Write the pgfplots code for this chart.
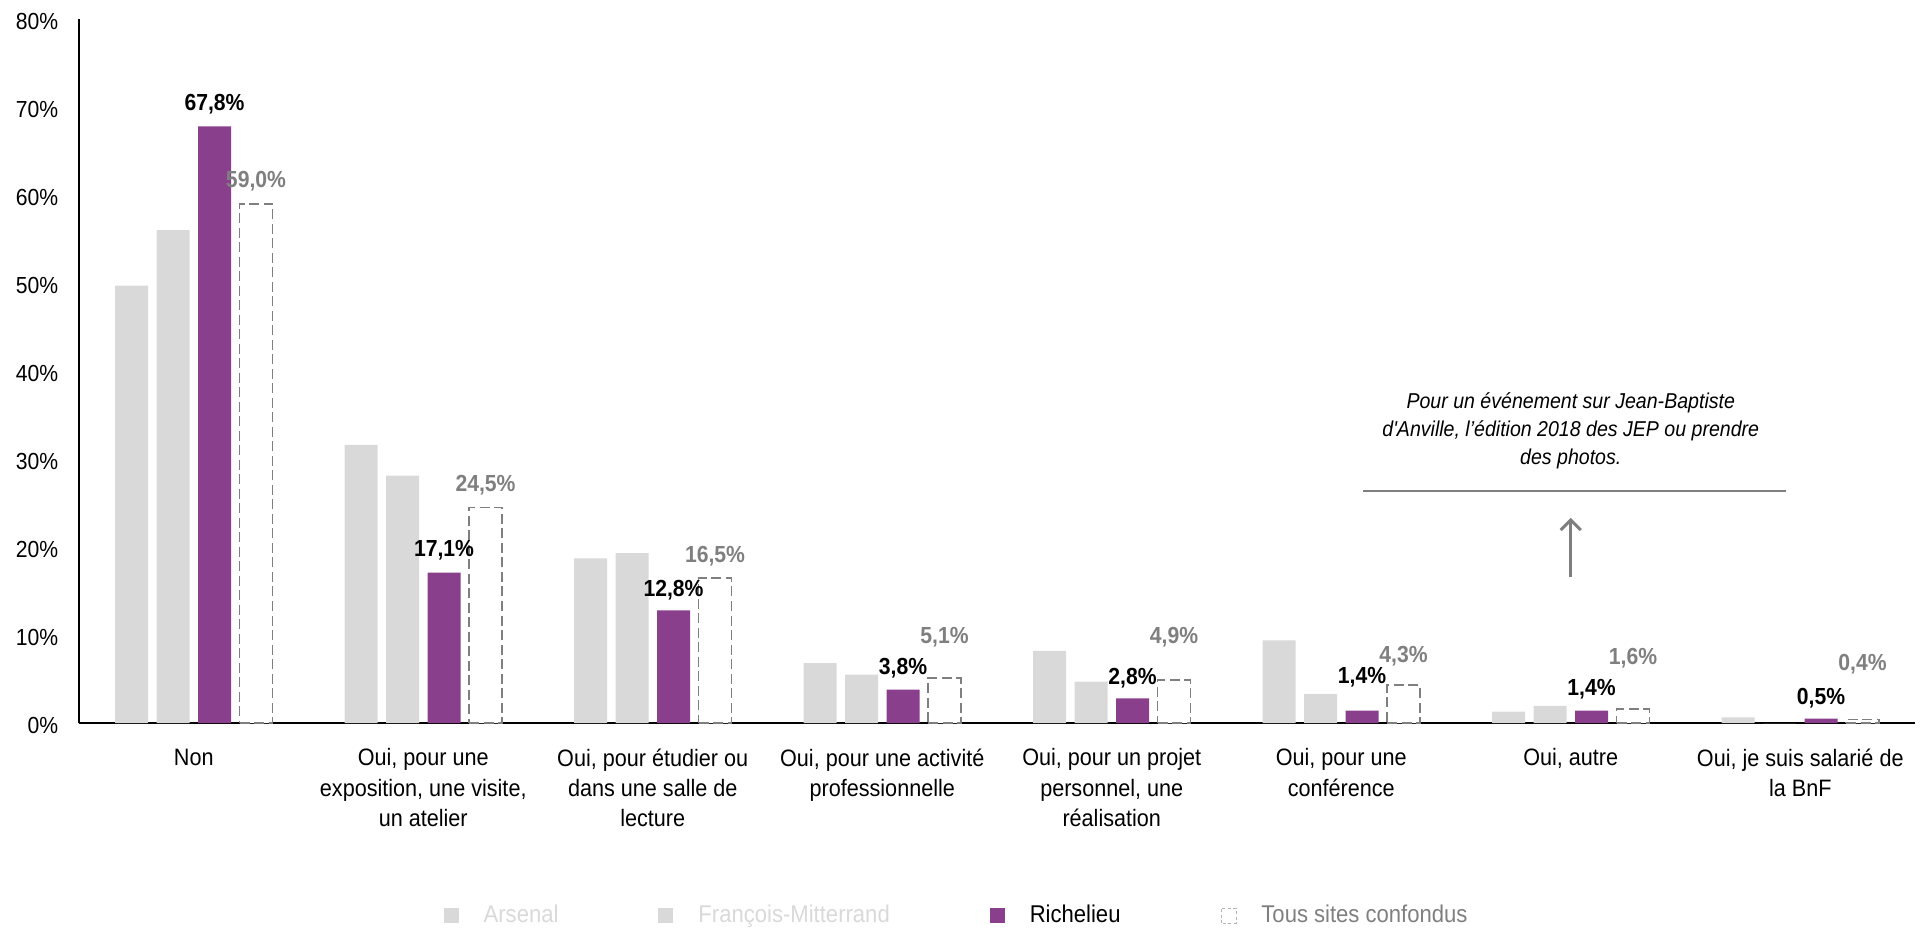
\documentclass[border=0pt]{standalone}
\usepackage{fontspec}
\setmainfont{Liberation Sans}[FakeStretch=0.91]
\usepackage{pgfplots}
\pgfplotsset{compat=1.18}
\usetikzlibrary{arrows.meta}
\definecolor{lgray}{HTML}{D9D9D9}
\definecolor{rpurple}{HTML}{893F8C}
\definecolor{dgray}{HTML}{7F7F7F}
\begin{document}
\fontsize{9.3pt}{12pt}\selectfont
\begin{tikzpicture}[font=\fontsize{9.3pt}{12pt}\selectfont]
\begin{axis}[
  at={(0,0)}, anchor=south west,
  scale only axis, width=734.4pt, height=281.6pt,
  xmin=-0.5, xmax=7.5, ymin=0, ymax=80,
  ybar=3.4pt, bar width=13.2pt,
  axis x line*=bottom, axis y line*=left,
  axis line style={black, line width=0.8pt, -},
  major tick length=0pt,
  xtick={0,...,7},
  xticklabels={Non,
    {Oui, pour une\\exposition, une visite,\\un atelier},
    {Oui, pour étudier ou\\dans une salle de\\lecture},
    {Oui, pour une activité\\professionnelle},
    {Oui, pour un projet\\personnel, une\\réalisation},
    {Oui, pour une\\conférence},
    {Oui, autre},
    {Oui, je suis salarié de\\la BnF}},
  xticklabel style={align=center, anchor=north, yshift=-7pt, font=\fontsize{9.5pt}{12.1pt}\selectfont},
  ytick={0,10,...,80},
  yticklabels={0\%,10\%,20\%,30\%,40\%,50\%,60\%,70\%,80\%},
  yticklabel style={xshift=-5pt, yshift=-1pt},
  legend style={draw=none, fill=none, legend columns=4,
    at={(0.4788,-0.274)}, anchor=center,
    /tikz/every odd column/.append style={column sep=8pt},
    /tikz/every even column/.append style={column sep=38pt},
    font=\fontsize{9.7pt}{12pt}\selectfont},
  legend cell align=left,
]
\addplot[fill=lgray, draw=none,
  legend image code/.code={\fill[lgray] (0pt,-3pt) rectangle (6pt,3pt);}]
  coordinates {(0,49.7) (1,31.6) (2,18.7) (3,6.8) (4,8.2) (5,9.4) (6,1.3) (7,0.65)};
\addlegendentry{\textcolor{lgray}{Arsenal}}
\addplot[fill=lgray, draw=none,
  legend image code/.code={\fill[lgray] (0pt,-3pt) rectangle (6pt,3pt);}]
  coordinates {(0,56.0) (1,28.1) (2,19.3) (3,5.5) (4,4.7) (5,3.3) (6,1.95) (7,0)};
\addlegendentry{\textcolor{lgray}{François-Mitterrand}}
\addplot[fill=rpurple, draw=none,
  legend image code/.code={\fill[rpurple] (0pt,-3pt) rectangle (6pt,3pt);}]
  coordinates {(0,67.8) (1,17.1) (2,12.8) (3,3.8) (4,2.8) (5,1.4) (6,1.4) (7,0.5)};
\addlegendentry{Richelieu}
\addplot[fill=white, draw=dgray, line width=0.6pt, dash pattern=on 4pt off 1.8pt,
  legend image code/.code={\draw[solid, draw=dgray!60, fill=white, line width=0.35pt, dash pattern=on 1.2pt off 1pt] (0pt,-3pt) rectangle (6pt,3pt);}]
  coordinates {(0,59.0) (1,24.5) (2,16.5) (3,5.1) (4,4.9) (5,4.3) (6,1.6) (7,0.4)};
\addlegendentry{\textcolor{dgray}{Tous sites confondus}}

% value labels Richelieu
\begin{scope}[every node/.style={font=\fontsize{9.3pt}{12pt}\selectfont\bfseries, text=black}]
\node at (axis cs:0.0904,70.3) {67,8\%};
\node at (axis cs:1.0904,19.65) {17,1\%};
\node at (axis cs:2.0904,15.15) {12,8\%};
\node at (axis cs:3.0904,6.25) {3,8\%};
\node at (axis cs:4.0904,5.15) {2,8\%};
\node at (axis cs:5.0904,5.15) {1,4\%};
\node at (axis cs:6.0904,3.85) {1,4\%};
\node at (axis cs:7.0904,2.85) {0,5\%};
\end{scope}
\begin{scope}[every node/.style={font=\fontsize{9.3pt}{12pt}\selectfont\bfseries, text=dgray}]
\node at (axis cs:0.2712,61.6) {59,0\%};
\node at (axis cs:1.2712,27.05) {24,5\%};
\node at (axis cs:2.2712,18.95) {16,5\%};
\node at (axis cs:3.2712,9.75) {5,1\%};
\node at (axis cs:4.2712,9.75) {4,9\%};
\node at (axis cs:5.2712,7.65) {4,3\%};
\node at (axis cs:6.2712,7.35) {1,6\%};
\node at (axis cs:7.2712,6.65) {0,4\%};
\end{scope}

% annotation
\draw[dgray, line width=0.8pt] (axis cs:5.095,26.4) -- (axis cs:6.938,26.4);
\draw[dgray, line width=1.2pt, -{Straight Barb[length=4pt,width=8pt]}] (axis cs:6,16.6) -- (axis cs:6,23.3);
\node[align=center, font=\fontsize{8.6pt}{11.3pt}\selectfont\itshape, text=black] at (axis cs:6,33.2)
  {Pour un événement sur Jean-Baptiste\\d{\addfontfeatures{Ligatures=TeXOff}'}Anville, l’édition 2018 des JEP ou prendre\\des photos.};
\end{axis}
\pgfresetboundingbox
\useasboundingbox (-31.6pt,-82.4pt) rectangle (738.4pt,289.2pt);
\end{tikzpicture}
\end{document}
